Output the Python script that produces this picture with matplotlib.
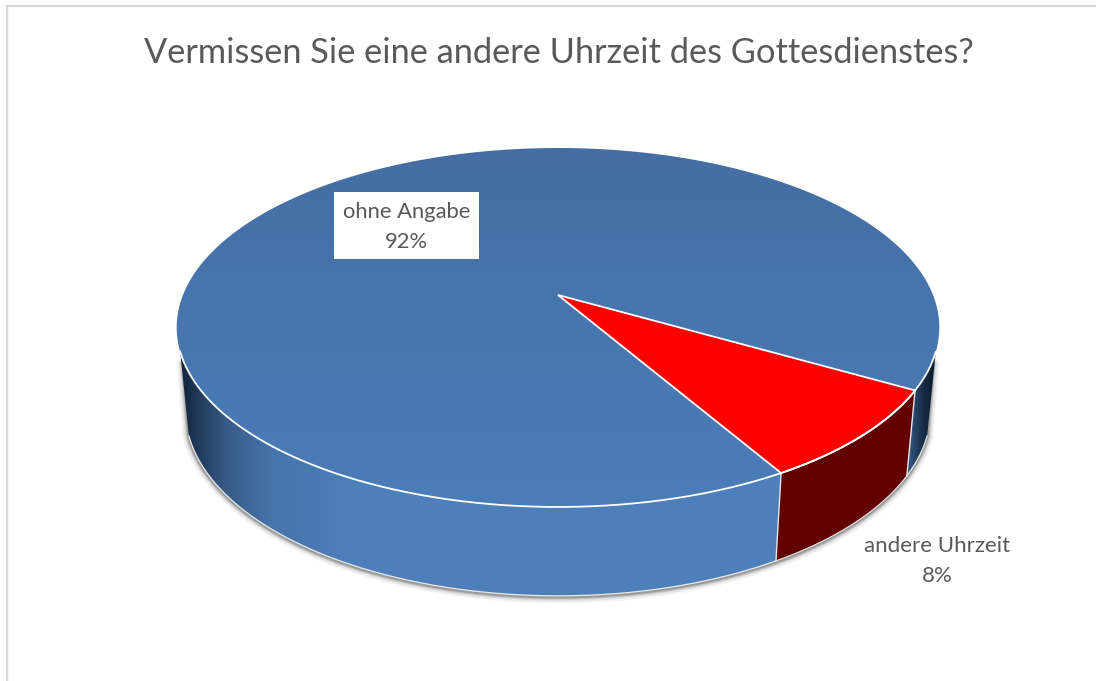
import numpy as np
import matplotlib
matplotlib.use('Agg')
import matplotlib.pyplot as plt
from matplotlib.colors import LinearSegmentedColormap
from matplotlib.patches import Polygon, Rectangle

title = 'Vermissen Sie eine andere Uhrzeit des Gottesdienstes?'
categories = ['andere Uhrzeit', 'ohne Angabe']
values = [8.3, 91.7]

W, H = 1096, 681
CX, CY = 558, 295      # Spitze der Torte in Pixeln
SX, SY, K = 375, 173.6, 0.181
START = -30
EDGE_R, EDGE_L = -18, -162   # dort beginnt die sichtbare Seitenwand


# Kreis -> Ellipse mit Perspektive (Spitze liegt nicht in der Mitte)
def top_rim(t):
    x, y = np.cos(np.radians(t)), np.sin(np.radians(t))
    d = 1 + K * y
    return CX + SX * x / d, CY - SY * y / d


def bottom_rim(t):
    x, y = top_rim(t)
    return CX + (x - CX) * 0.977, CY + (y - CY) * 1.03 + 82.5


def wall_poly(t0, t1):
    t = np.linspace(t0, t1, 200)
    xa, ya = top_rim(t)
    xb, yb = bottom_rim(t)
    return np.column_stack([np.r_[xa, xb[::-1]], np.r_[ya, yb[::-1]]])


def gradient(ax, cmap, clip, horizontal=True, z=2):
    arr = np.linspace(0, 1, 1096).reshape(1, -1) if horizontal else np.linspace(0, 1, 681).reshape(-1, 1)
    im = ax.imshow(arr, cmap=cmap, extent=(0, W, H, 0), aspect='auto', zorder=z, vmin=0, vmax=1)
    clip.set_transform(ax.transData)
    im.set_clip_path(clip)


fig = plt.figure(figsize=(W / 100, H / 100), dpi=100)
ax = fig.add_axes([0, 0, 1, 1])
plt.rcParams['font.family'] = ['Lato', 'DejaVu Sans']

# Rahmen
ax.plot([7, 7, W], [H, 6, 6], color='#d9d9d9', lw=1.6, solid_joinstyle='miter', zorder=1)

# Winkel aus den Werten
angles = [START]
for v in values:
    angles.append(angles[-1] - 360 * v / sum(values))
t_red0, t_red1 = angles[0], angles[1]

# Schatten: nur unterer Umriss der Wand, weich gestapelt
tt = np.linspace(EDGE_R, EDGE_L, 300)
xs, ys = bottom_rim(tt)
xa, ya = top_rim(np.array([EDGE_R, EDGE_L]))
xs = np.r_[xa[0] - 3, xs, xa[1] + 3]
ys = np.r_[ya[0] + 12, ys + 1, ya[1] + 12]
for lw, a in zip([13, 10, 7, 5, 3], [0.04, 0.05, 0.08, 0.12, 0.18]):
    ax.plot(xs, ys, color='black', lw=lw * 0.72, alpha=a, zorder=1.5,
            solid_capstyle='round', solid_joinstyle='round')

# Seitenwand
side_stops = [(0.0, (13, 30, 50)), (178 / W, (13, 30, 50)), (195 / W, (30, 55, 85)), (225 / W, (55, 90, 135)),
              (270 / W, (70, 115, 170)), (350 / W, (77, 127, 187)), (776 / W, (78, 128, 188)),
              (905 / W, (60, 98, 145)), (920 / W, (30, 55, 85)), (932 / W, (13, 30, 50)), (1.0, (13, 30, 50))]
side_cmap = LinearSegmentedColormap.from_list(
    'side', [(p, tuple(c / 255 for c in col)) for p, col in side_stops], N=1024)

left = wall_poly(t_red1, EDGE_L)
right = wall_poly(EDGE_R, t_red0)
gradient(ax, side_cmap, Polygon(left, closed=True))
gradient(ax, side_cmap, Polygon(right, closed=True))
ax.add_patch(Polygon(wall_poly(t_red0, t_red1), closed=True, facecolor='#620000', edgecolor='none', zorder=3))

# Kanten der Seitenwand
for a, b in [(EDGE_R, t_red0), (t_red1, EDGE_L)]:
    t = np.linspace(a, b, 200)
    ax.plot(*bottom_rim(t), color='#e8e8e8', lw=0.9, zorder=4)
ax.plot(*bottom_rim(np.linspace(t_red0, t_red1, 80)), color='#e8e8e8', lw=0.8, zorder=4)
for t in (t_red0, t_red1):
    xa, ya = top_rim(t)
    xb, yb = bottom_rim(t)
    ax.plot([xa, xb], [ya, yb], color='#e6e6e6', lw=1.0, zorder=4)

# Deckel
tb = np.linspace(t_red1, t_red1 - 360 * values[1] / sum(values), 500)
xb, yb = top_rim(tb)
blue = np.column_stack([np.r_[CX, xb], np.r_[CY, yb]])
top_cmap = LinearSegmentedColormap.from_list(
    'top', [(0.0, '#446ea3'), (148 / H, '#446ea3'), (507 / H, '#4b7db9'), (1.0, '#4b7db9')])
gradient(ax, top_cmap, Polygon(blue, closed=True), horizontal=False, z=5)

tr = np.linspace(t_red0, t_red1, 100)
xr, yr = top_rim(tr)
red = np.column_stack([np.r_[CX, xr], np.r_[CY, yr]])
ax.add_patch(Polygon(red, closed=True, facecolor='#ff0000', edgecolor='white', lw=1.3,
                     joinstyle='miter', zorder=6))
ax.plot(*top_rim(np.linspace(EDGE_R, EDGE_L, 400)), color='white', lw=1.3, zorder=6)

# Beschriftung
ax.add_patch(Rectangle((334, 192), 145, 67, facecolor='white', edgecolor='none', zorder=7))
ax.text(559, 53, title, fontsize=24.75, color='#595959', ha='center', va='center', zorder=8)
pct = [f'{round(100 * v / sum(values))}%' for v in values]
ax.text(937, 546, categories[0], fontsize=16, color='#595959', ha='center', va='center', zorder=8)
ax.text(937, 576, pct[0], fontsize=16, color='#595959', ha='center', va='center', zorder=8)
ax.text(406.5, 212.5, categories[1], fontsize=15.8, color='#595959', ha='center', va='center', zorder=8)
ax.text(406.5, 242.5, pct[1], fontsize=15.8, color='#595959', ha='center', va='center', zorder=8)

ax.set_xlim(0, W)
ax.set_ylim(H, 0)
ax.axis('off')
fig.savefig('out.png', dpi=100, facecolor='white')
